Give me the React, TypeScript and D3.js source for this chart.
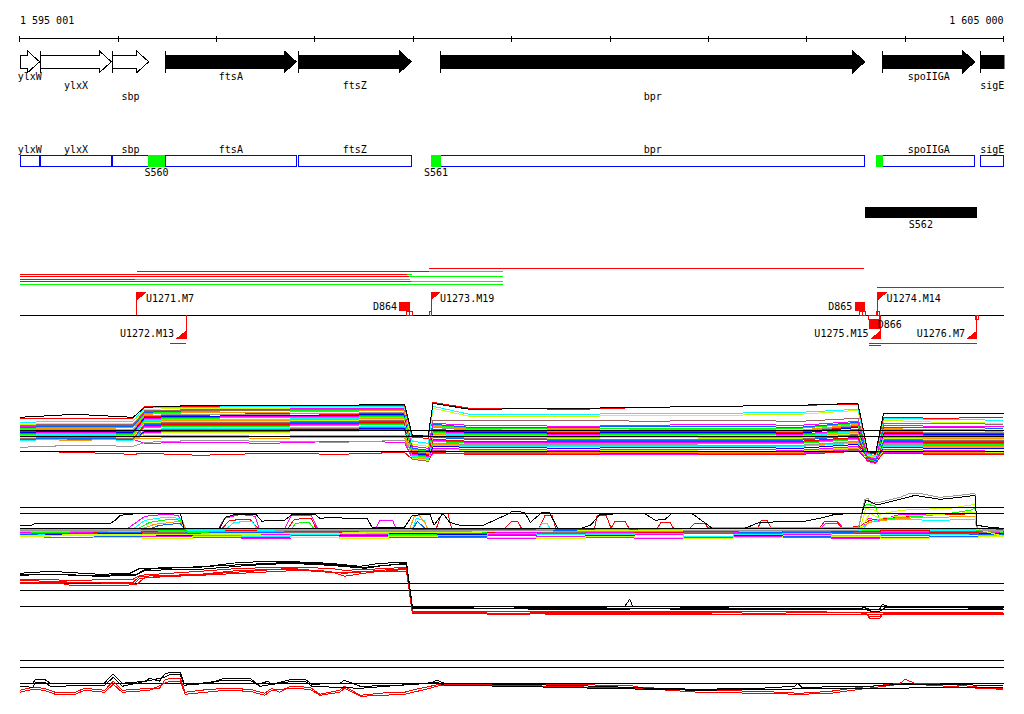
import React from "react";
import * as d3 from "d3";

type Pt = [number, number];

// ---------- genome window (kb) ----------
const DOMAIN: [number, number] = [1595.001, 1605.0];
const AXIS_TICKS = [1595, 1596, 1597, 1598, 1599, 1600, 1601, 1602, 1603, 1604, 1605];
const AXIS_LABELS = ["1 595 001", "1 605 000"];

// ---------- genes ----------
const GENE_NAMES = ["ylxW", "ylxX", "sbp", "ftsA", "ftsZ", "bpr", "spoIIGA", "sigE"];
const GENE_START = [1594.9, 1595.21, 1595.94, 1596.48, 1597.83, 1599.28, 1603.77, 1604.77];
const GENE_END = [1595.2, 1595.93, 1596.31, 1597.81, 1598.98, 1603.59, 1604.71, 1605.4];
const GENE_KNOWN = [false, false, false, true, true, true, true, true];

// ---------- sites on the gene-box track ----------
const SITE_NAMES = ["S560", "S561", ""];
const SITE_START = [1596.3, 1599.18, 1603.7];
const SITE_END = [1596.48, 1599.28, 1603.77];

const REGION_NAMES = ["S562"];
const REGION_START = [1603.59];
const REGION_END = [1604.73];

// ---------- transcript segments ----------
const SEG_LANE = [0, 1, 1, 2, 2, 3, 3, 4, 4, 5, 5, 6, 7, 8, 8, 9];
const SEG_START = [1599.16, 1596.19, 1599.16, 1595.0, 1598.94, 1595.0, 1598.96, 1595.0, 1596.17, 1595.0, 1598.98, 1595.0, 1603.71, 1596.53, 1603.63, 1603.63];
const SEG_END = [1603.58, 1599.16, 1599.91, 1598.94, 1598.99, 1598.96, 1599.91, 1596.17, 1598.97, 1598.98, 1599.91, 1599.91, 1605.0, 1596.69, 1604.73, 1603.75];
const SEG_TYPE = ["r", "r", "g", "r", "g", "r", "g", "r", "g", "r", "g", "g", "r", "r", "r", "r"];

// ---------- promoters / terminators ----------
const FLAG_NAMES = ["U1271.M7", "U1272.M13", "U1273.M19", "U1274.M14", "U1275.M15", "U1276.M7"];
const FLAG_POS = [1596.19, 1596.69, 1599.18, 1603.72, 1603.75, 1604.73];
const FLAG_STRAND = ["+", "-", "+", "+", "-", "-"];

const DOWN_NAMES = ["D864", "D865", "D866"];
const DOWN_POS = [1598.91, 1603.54, 1603.69];
const DOWN_STRAND = ["+", "+", "-"];

const BOX_START = [1598.93, 1598.96, 1599.16, 1603.54, 1603.57, 1603.71, 1603.63, 1604.72];
const BOX_END = [1598.96, 1598.99, 1599.18, 1603.57, 1603.6, 1603.74, 1603.74, 1604.75];
const BOX_STRAND = ["+", "+", "+", "+", "+", "+", "-", "-"];

// ---------- expression track 5 ----------
const T5_REFS = [0, 15, 20.6];
const T5_POS = [1595.0, 1595.56, 1596.15, 1596.27, 1596.83, 1597.54, 1598.25, 1598.91, 1598.99, 1599.15, 1599.2, 1599.57, 1600.69, 1601.4, 1602.11, 1602.93, 1603.52, 1603.62, 1603.7, 1603.78, 1604.35, 1605.0];
const T5_COLORS = ["#000000", "#ff0000", "#00ffff", "#ccff00", "#996666", "#ff00ff", "#0066ff", "#00ff00", "#ff9900", "#999999", "#ff0000", "#0000ff", "#ff00ff", "#00ff00", "#00ffff", "#ff9900", "#ccff00", "#996666", "#0066ff", "#ff0000", "#ff00ff", "#00ff00", "#999999", "#ff9900", "#00ffff", "#0000ff", "#ff00ff", "#ccff00", "#ff0000", "#ff00ff", "#ff9900", "#996666"];
const T5_VALUES = [
  [34, 37, 34, 44, 46, 46, 46, 47, 16, 15, 48, 42, 43, 44, 45, 46, 48, 0, -2, 38, 38, 38],
  [33, 33, 33, 45, 45, 46, 46, 46, 14, 13, 49, 43, 42, 44, 45, 46, 47, -1, -3, 34, 33, 34],
  [29, 30, 30, 44, 44, 45, 45, 45, 10, 8, 45, 37, 37, 38, 38, 39, 42, -3, -5, 33, 32, 31],
  [27, 28, 28, 42, 43, 43, 44, 44, 7, 5, 43, 35, 35, 36, 36, 37, 41, -4, -6, 31, 29, 28],
  [26, 27, 27, 41, 41, 41, 42, 42, 15, 16, 31, 31, 31, 30, 31, 30, 33, -2, -5, 28, 28, 27],
  [25, 26, 26, 40, 42, 43, 43, 43, 5, 3, 28, 26, 25, 26, 27, 26, 30, -6, -8, 26, 25, 25],
  [24, 25, 25, 39, 41, 42, 42, 43, 3, 1, 27, 24, 24, 25, 25, 24, 29, -7, -9, 24, 24, 23],
  [23, 24, 24, 38, 40, 41, 41, 42, 2, 0, 26, 23, 22, 23, 23, 23, 28, -8, -10, 22, 22, 21],
  [22, 23, 22, 37, 39, 39, 40, 41, 1, -1, 25, 22, 23, 22, 22, 21, 27, -5, -7, 23, 21, 20],
  [21, 22, 21, 36, 37, 37, 38, 39, 0, -2, 24, 21, 20, 21, 21, 20, 26, -4, -6, 20, 19, 19],
  [20, 21, 20, 35, 36, 38, 37, 38, -1, -3, 22, 20, 19, 20, 20, 19, 25, -3, -5, 19, 18, 18],
  [19, 20, 19, 34, 35, 36, 36, 37, -2, -4, 21, 19, 18, 19, 19, 18, 24, -6, -8, 18, 17, 17],
  [18, 19, 18, 33, 34, 35, 35, 36, -3, -5, 20, 18, 17, 18, 18, 17, 22, -7, -9, 17, 16, 16],
  [17, 18, 17, 32, 33, 34, 34, 35, -4, -6, 19, 17, 16, 17, 17, 16, 21, -8, -10, 16, 15, 15],
  [16, 17, 16, 31, 32, 32, 33, 34, -5, -7, 18, 16, 15, 16, 15, 15, 20, -5, -8, 15, 14, 14],
  [15, 16, 15, 30, 31, 31, 32, 33, -6, -8, 17, 15, 14, 15, 14, 14, 19, -4, -7, 14, 13, 13],
  [14, 15, 14, 29, 30, 30, 31, 32, -7, -9, 16, 14, 13, 14, 13, 13, 18, -6, -9, 13, 12, 12],
  [13, 14, 13, 28, 29, 29, 30, 31, -8, -10, 15, 13, 12, 12, 12, 12, 17, -7, -10, 12, 11, 11],
  [12, 13, 12, 27, 28, 28, 29, 30, -7, -9, 14, 12, 11, 11, 11, 11, 16, -8, -11, 11, 10, 10],
  [15, 14, 13, 26, 27, 27, 28, 29, -6, -8, 12, 10, 10, 10, 10, 10, 14, -9, -11, 10, 9, 9],
  [14, 12, 13, 25, 26, 26, 27, 28, -5, -7, 11, 9, 9, 9, 9, 9, 13, -7, -10, 9, 8, 8],
  [13, 14, 12, 24, 25, 25, 26, 27, -4, -6, 10, 8, 8, 8, 8, 8, 12, -6, -9, 8, 7, 7],
  [4, 6, 5, 9, 11, 10, 9, 11, -3, -5, 8, 7, 7, 7, 6, 6, 10, -5, -8, 7, 6, 6],
  [12, 11, 12, 16, 16, 15, 16, 16, -2, -4, 7, 6, 6, 6, 6, 6, 9, -4, -7, 6, 5, 5],
  [11, 12, 11, 22, 23, 23, 24, 25, -1, -3, 6, 5, 5, 5, 5, 5, 8, -3, -6, 5, 4, 4],
  [13, 11, 12, 20, 21, 21, 22, 23, -3, -6, 5, 4, 3, 4, 4, 3, 7, -5, -8, 4, 3, 3],
  [12, 13, 11, 19, 20, 20, 21, 22, -5, -8, 3, 2, 1, 2, 2, 1, 5, -6, -9, 2, 1, 0],
  [11, 12, 12, 18, 19, 19, 20, 21, -6, -9, 2, 1, 0, 1, 0, 0, 4, -7, -10, 1, 0, -1],
  [0, -1, -3, -2, -4, -2, -3, -1, -8, -10, -1, -3, -3, -2, -3, -3, 0, -9, -11, -2, -3, -3],
  [12, 13, 12, 8, 9, 8, 10, 9, -7, -9, -2, -2, -3, -3, -3, -2, 2, -10, -12, -1, -2, -2],
  [11, 12, 13, 13, 14, 13, 14, 14, -4, -7, 0, 0, -1, -1, -1, -1, 3, -8, -11, 0, -1, -1],
  [14, 13, 14, 21, 22, 22, 23, 24, 14, 16, 1, -1, -2, -1, -2, -2, 1, -6, -9, -1, -1, -2],
];

// ---------- expression track 6 ----------
const T6_REFS = [0, 15, 21];
const T6_POS = [1595.0, 1595.5, 1596.0, 1596.5, 1597.0, 1597.5, 1598.0, 1598.5, 1599.0, 1599.5, 1600.0, 1600.5, 1601.0, 1601.5, 1602.0, 1602.5, 1603.0, 1603.5, 1604.0, 1604.5, 1605.0];
const T6_BAND_COLORS = ["#ff0000", "#00ff00", "#0066ff", "#ff00ff", "#00ffff", "#ff9900", "#999999", "#996666", "#ccff00", "#0000ff", "#00ff00", "#ff00ff", "#ff0000", "#00ffff"];
const T6_BAND = [
  [-1, -1, 0, -1, -2, -1, -1, 0, -1, -2, -1, -1, -2, -1, -2, -1, -1, -2, -1, 0, -1],
  [-3, -4, -5, -6, -7, -5, -4, -5, -6, -4, -3, -4, -5, -4, -3, -4, -5, -5, -4, -3, -4],
  [-6, -7, -8, -7, -8, -9, -7, -8, -9, -8, -7, -8, -7, -9, -8, -7, -8, -9, -7, -8, -8],
  [-8, -9, -7, -8, -9, -10, -9, -8, -8, -9, -10, -8, -9, -10, -9, -8, -9, -10, -9, -9, -8],
  [-2, -3, -3, -2, -3, -4, -3, -2, -3, -3, -2, -3, -4, -3, -2, -3, -2, -3, -3, -2, -3],
  [-1, -2, -2, -3, -1, -2, -3, -2, -1, -2, -3, -2, -1, -2, -3, -1, -2, -1, -2, -1, -2],
  [-2, -3, -2, -3, -3, -2, -3, -3, -2, -3, -2, -3, -3, -2, -3, -2, -3, -2, -3, -3, -2],
  [-4, -3, -4, -4, -5, -4, -4, -3, -4, -5, -4, -4, -3, -4, -4, -5, -3, -4, -4, -3, -4],
  [-7, -6, -9, -10, -8, -7, -9, -10, -8, -7, -9, -10, -8, -9, -10, -9, -7, -8, -10, -9, -8],
  [-5, -6, -5, -7, -6, -5, -6, -7, -5, -6, -5, -6, -7, -6, -5, -7, -6, -5, -6, -6, -5],
  [-1, 0, -1, -2, -1, 0, -2, -1, 0, -1, -2, -1, 0, -1, -2, 0, -1, -2, -1, 0, -1],
  [-5, -4, -6, -5, -4, -6, -5, -6, -4, -5, -6, -5, -4, -6, -5, -4, -6, -5, -4, -5, -6],
  [-3, -2, -4, -3, -4, -2, -3, -4, -3, -2, -4, -3, -2, -4, -3, -2, -4, -3, -2, -4, -3],
  [-6, -5, -7, -6, -6, -8, -6, -5, -7, -7, -5, -6, -6, -5, -8, -6, -5, -7, -6, -6, -7],
];
const T6_PEAK_COLORS = ["#ff00ff", "#ff0000", "#00ffff", "#00ff00", "#ff9900", "#0066ff", "#ccff00", "#ccff00"];
const T6_PEAKS: Pt[][] = [
  [[1595.0, -4], [1595.8, -3], [1596.07, -2], [1596.17, 5], [1596.27, 12], [1596.47, 14], [1596.61, 13], [1596.68, -1], [1596.78, -3], [1597.01, -2], [1597.08, 10], [1597.24, 14], [1597.39, 12], [1597.44, -2], [1597.69, -1], [1597.76, 13], [1597.96, 13], [1598.03, -1], [1598.61, -2], [1598.66, 8], [1598.79, 8], [1598.83, -2], [1600.0, -4], [1603.13, -1], [1603.19, 5], [1603.33, 5], [1603.38, -1], [1603.56, 0], [1603.62, 10], [1603.74, 8], [1603.95, 14], [1604.35, 14], [1604.71, 16], [1604.73, -3], [1605.0, -4]],
  [[1595.0, -2], [1597.05, -1], [1597.13, 8], [1597.34, 9], [1597.42, 0], [1597.72, -1], [1597.79, 9], [1597.96, 10], [1598.01, 0], [1599.23, -1], [1599.29, 15], [1599.35, 15], [1599.39, 0], [1599.93, 0], [1600.0, 7], [1600.06, 7], [1600.1, 0], [1600.28, 0], [1600.34, 13], [1600.41, 13], [1600.45, -1], [1600.84, -1], [1600.87, 13], [1600.96, 13], [1601.01, 0], [1601.05, 7], [1601.15, 7], [1601.2, -1], [1601.48, 0], [1601.52, 6], [1601.61, 6], [1601.65, -1], [1601.81, 0], [1601.86, 5], [1601.96, 5], [1602.01, -1], [1602.5, 0], [1602.54, 8], [1602.6, 8], [1602.64, -1], [1603.13, 0], [1603.18, 7], [1603.31, 7], [1603.35, 0], [1603.54, 2], [1603.64, 8], [1603.8, 10], [1604.15, 13], [1604.56, 14], [1604.71, 15], [1604.73, 0], [1605.0, -1]],
  [[1595.0, -3], [1596.12, -3], [1596.27, 8], [1596.47, 11], [1596.63, 10], [1596.69, -2], [1597.08, -2], [1597.18, 6], [1597.36, 7], [1597.42, -2], [1598.99, -1], [1599.03, 10], [1599.11, 8], [1599.15, -2], [1600.28, 0], [1600.31, 5], [1600.36, 5], [1600.39, 0], [1603.56, -2], [1603.62, 5], [1603.74, 9], [1604.35, 8], [1604.71, 9], [1604.73, -2], [1605.0, -3]],
  [[1595.0, -5], [1596.17, -2], [1596.32, 6], [1596.52, 9], [1596.65, 8], [1596.7, -4], [1597.75, -3], [1597.8, 5], [1597.94, 6], [1598.01, -3], [1603.52, -2], [1603.58, 22], [1603.62, 24], [1603.7, 22], [1603.74, 8], [1603.85, 10], [1604.15, 12], [1604.46, 15], [1604.66, 18], [1604.71, 20], [1604.73, -2], [1605.0, -4]],
  [[1595.0, -1], [1596.22, -1], [1596.37, 4], [1596.63, 7], [1596.69, -1], [1598.96, -1], [1599.01, 12], [1599.06, 13], [1599.12, 5], [1599.15, -1], [1603.56, 1], [1603.64, 6], [1603.95, 10], [1604.71, 12], [1604.73, -1], [1605.0, -2]],
  [[1595.0, -6], [1596.22, -4], [1596.42, 3], [1596.63, 5], [1596.7, -5], [1598.99, -2], [1599.04, 7], [1599.13, -1], [1605.0, -6]],
  [[1595.0, -7], [1603.54, -1], [1603.6, 20], [1603.7, 18], [1603.74, 14], [1603.95, 18], [1604.15, 19], [1604.46, 20], [1604.71, 24], [1604.73, -1], [1605.0, -8]],
  [[1595.0, -8], [1603.56, 0], [1603.64, 15], [1603.74, 10], [1603.95, 12], [1604.35, 14], [1604.71, 16], [1604.73, 0], [1605.0, -9]],
];
const T6_GRAY: Pt[] = [[1595.0, -2], [1597.0, -3], [1599.0, -2], [1601.0, -3], [1603.52, -2], [1603.59, 29], [1603.62, 30], [1603.66, 25], [1603.74, 26], [1603.95, 31], [1604.05, 35], [1604.15, 35], [1604.35, 31], [1604.56, 33], [1604.71, 35], [1604.73, 2], [1604.76, -2], [1605.0, -2]];
const T6_BLACK: Pt[] = [[1595.0, 3], [1595.12, 3], [1595.16, 5], [1595.92, 5], [1595.97, 8], [1596.02, 13], [1596.22, 15], [1596.63, 15], [1596.67, 0], [1597.03, 0], [1597.09, 11], [1597.19, 14], [1597.4, 14], [1597.46, 7], [1597.52, 8], [1597.69, 8], [1597.77, 14], [1598.0, 14], [1598.05, 10], [1598.2, 11], [1598.3, 10], [1598.53, 10], [1598.58, 1], [1598.91, 1], [1598.99, 13], [1599.17, 14], [1599.21, 3], [1599.3, 15], [1599.37, 6], [1599.47, 3], [1599.71, 3], [1599.98, 15], [1600.0, 17], [1600.13, 16], [1600.19, 6], [1600.31, 16], [1600.38, 16], [1600.47, 0], [1600.71, 0], [1600.8, 3], [1600.9, 14], [1601.35, 15], [1601.46, 8], [1601.56, 9], [1601.63, 15], [1601.83, 15], [1602.04, 0], [1602.37, 0], [1602.52, 6], [1602.98, 7], [1603.13, 10], [1603.29, 14], [1603.56, 15], [1603.6, 28], [1603.64, 27], [1603.7, 24], [1603.74, 24], [1603.99, 30], [1604.1, 33], [1604.35, 29], [1604.56, 31], [1604.71, 33], [1604.73, 3], [1604.86, 1], [1605.0, 0]];

// ---------- track 7 ----------
const T7_REFS = [0, 16, 23];
const T7_COLORS = ["#ff0000", "#ff0000", "#ff0000", "#ff0000", "#000000", "#000000", "#000000"];
const T7_SERIES: Pt[][] = [
  [[1595.0, 27], [1595.56, 26], [1596.15, 27], [1596.22, 31], [1596.83, 35], [1597.24, 38], [1597.75, 39], [1598.15, 38], [1598.3, 36], [1598.56, 37], [1598.93, 39], [1598.99, -5], [1599.88, -7], [1600.9, -6], [1601.91, -6], [1602.52, -7], [1603.44, -6], [1603.6, -7], [1603.64, -12], [1603.74, -12], [1603.78, -7], [1605.0, -7]],
  [[1595.0, 26], [1595.56, 24], [1596.15, 24], [1596.22, 30], [1596.83, 32], [1597.24, 36], [1597.75, 37], [1598.15, 35], [1598.3, 30], [1598.56, 34], [1598.93, 37], [1598.99, -6], [1599.88, -8], [1600.9, -7], [1602.52, -8], [1603.6, -8], [1603.64, -10], [1603.74, -10], [1603.78, -8], [1605.0, -7]],
  [[1595.0, 23], [1595.41, 23], [1595.51, 21], [1596.07, 21], [1596.19, 22], [1596.27, 29], [1596.83, 31], [1597.85, 36], [1598.15, 34], [1598.93, 35], [1598.99, -7], [1600.9, -8], [1603.6, -8], [1603.78, -8], [1605.0, -8]],
  [[1595.0, 24], [1596.17, 23], [1596.22, 28], [1597.34, 35], [1597.75, 38], [1598.3, 33], [1598.93, 38], [1598.99, -5], [1605.0, -6]],
  [[1595.0, 33], [1595.31, 35], [1595.81, 32], [1596.12, 33], [1596.22, 38], [1596.83, 39], [1597.24, 44], [1597.69, 45], [1598.15, 43], [1598.46, 40], [1598.66, 43], [1598.93, 44], [1598.99, 0], [1599.37, 0], [1600.29, -1], [1600.9, -1], [1601.15, 0], [1601.2, 7], [1601.23, 0], [1601.91, -1], [1602.93, 0], [1603.54, 0], [1603.64, -3], [1603.74, -3], [1603.77, 2], [1603.85, -1], [1605.0, -1]],
  [[1595.0, 31], [1595.31, 32], [1595.81, 30], [1596.17, 31], [1596.27, 36], [1596.83, 37], [1597.34, 41], [1597.75, 43], [1598.15, 41], [1598.51, 38], [1598.71, 41], [1598.93, 42], [1598.99, -1], [1599.88, -2], [1600.29, -3], [1600.9, -3], [1601.91, -2], [1603.54, -2], [1603.66, -5], [1603.74, -5], [1603.8, -1], [1605.0, -2]],
  [[1595.0, 32], [1595.81, 31], [1596.19, 32], [1596.27, 37], [1597.34, 42], [1597.75, 44], [1598.15, 42], [1598.51, 39], [1598.93, 43], [1598.99, -2], [1600.9, -2], [1601.91, -3], [1603.54, -3], [1605.0, -3]],
];

// ---------- track 8 ----------
const T8_REFS = [0, 16, 23];
const T8_COLORS = ["#ff0000", "#ff0000", "#000000", "#000000"];
const T8_SERIES: Pt[][] = [
  [[1595.0, -7], [1595.13, -4], [1595.25, -5], [1595.36, -9], [1595.56, -9], [1595.66, -5], [1595.86, -7], [1595.95, 2], [1596.04, -7], [1596.32, -5], [1596.42, -5], [1596.47, 3], [1596.53, 5], [1596.63, 5], [1596.68, -9], [1596.83, -7], [1597.08, -5], [1597.34, -6], [1597.49, -10], [1597.56, -5], [1597.64, -9], [1597.75, -3], [1597.95, -4], [1598.05, -11], [1598.25, -7], [1598.3, -3], [1598.46, -12], [1598.76, -9], [1598.91, -9], [1599.02, -6], [1599.17, -3], [1599.27, -1], [1600.0, -1], [1601.2, -2], [1601.3, -4], [1601.91, -7], [1602.52, -8], [1602.93, -10], [1603.24, -8], [1603.54, -4], [1603.95, 0], [1604.0, 4], [1604.1, 0], [1604.46, -1], [1604.76, -4], [1605.0, -5]],
  [[1595.0, -9], [1595.13, -6], [1595.25, -7], [1595.36, -11], [1595.56, -11], [1595.66, -7], [1595.86, -9], [1595.95, -1], [1596.04, -9], [1596.32, -7], [1596.47, 0], [1596.53, 2], [1596.63, 2], [1596.68, -11], [1597.08, -7], [1597.34, -8], [1597.49, -12], [1597.56, -7], [1597.75, -5], [1597.95, -6], [1598.05, -12], [1598.25, -9], [1598.3, -5], [1598.46, -13], [1598.91, -11], [1599.17, -5], [1599.27, -2], [1600.0, -2], [1601.3, -5], [1601.91, -9], [1602.52, -10], [1602.93, -11], [1603.24, -10], [1603.54, -6], [1603.95, -1], [1604.1, -1], [1604.76, -5], [1605.0, -6]],
  [[1595.0, 0], [1595.13, 0], [1595.16, 4], [1595.25, 4], [1595.31, 0], [1595.86, 0], [1595.92, 7], [1595.95, 9], [1596.04, 0], [1596.27, 2], [1596.32, 5], [1596.42, 2], [1596.47, 9], [1596.53, 11], [1596.63, 11], [1596.67, 0], [1596.78, -1], [1596.93, 0], [1597.08, 5], [1597.34, 5], [1597.42, -1], [1597.52, 2], [1597.56, -1], [1597.77, 4], [1597.9, 4], [1597.97, -1], [1598.25, 0], [1598.3, 3], [1598.38, 0], [1598.46, -3], [1598.86, -2], [1599.17, 0], [1599.24, 3], [1599.32, 0], [1600.0, -1], [1600.49, -2], [1600.9, -3], [1601.41, -5], [1601.91, -6], [1602.52, -5], [1602.88, -3], [1602.91, 0], [1602.95, -4], [1603.64, -3], [1603.95, -1], [1605.0, -2]],
  [[1595.0, -3], [1595.13, -4], [1595.16, 1], [1595.25, 1], [1595.31, -3], [1595.86, -2], [1595.95, 6], [1596.04, -3], [1596.47, 6], [1596.53, 9], [1596.63, 9], [1596.67, -2], [1597.08, 3], [1597.34, 3], [1597.44, -3], [1597.77, 2], [1597.9, 2], [1597.97, -3], [1598.46, -5], [1599.24, 1], [1599.32, -2], [1600.0, -3], [1600.9, -5], [1601.91, -7], [1602.52, -6], [1603.64, -5], [1605.0, -4]],
];

// ---------- layout ----------
const W = 1024;
const H = 714;
const X0 = 20;
const X1 = 1003.5;
const FONT = "'DejaVu Sans Mono', monospace";
const LANE_Y = [268.3, 271.3, 274.3, 276.3, 279, 281, 284, 287.3, 343.3, 345.7];
const LABEL_ROW_Y = [80, 89.3, 99.8];
const SEG_COLOR: Record<string, string> = { r: "#ff0000", g: "#00ff00" };

export default function App() {
  const x = d3.scaleLinear().domain(DOMAIN).range([X0, X1]);
  const xc = (v: number) => Math.max(X0, Math.min(X1, x(v)));

  const mkY = (base: number) => d3.scaleLinear().domain([0, 1]).range([base, base - 1]);
  const y5 = mkY(451.3);
  const y6 = mkY(528.3);
  const y7 = mkY(606.3);
  const y8 = mkY(683.3);

  const lineOf = (ys: d3.ScaleLinear<number, number>, curve: d3.CurveFactory = d3.curveLinear) =>
    d3
      .line<Pt>()
      .x((d) => x(d[0]))
      .y((d) => ys(d[1]))
      .curve(curve);

  const refLines = (ys: d3.ScaleLinear<number, number>, refs: number[], key: string) =>
    refs.map((r, i) => (
      <line key={key + i} x1={X0} x2={X1 + 0.5} y1={ys(r)} y2={ys(r)} stroke="#000" strokeWidth={1} />
    ));

  const l5 = lineOf(y5);
  const l6 = lineOf(y6);
  const l6s = lineOf(y6, d3.curveStep);
  const l7 = lineOf(y7);
  const l8 = lineOf(y8);

  return (
    <svg
      width={W}
      height={H}
      style={{ position: "absolute", left: 0, top: 0, background: "#fff" }}
      shapeRendering="crispEdges"
      fontFamily={FONT}
      fontSize={10}
    >
      <defs>
        <clipPath id="plotclip">
          <rect x={X0} y={0} width={X1 - X0 + 1} height={H} />
        </clipPath>
      </defs>
      <rect x={0} y={0} width={W} height={H} fill="#fff" />

      {/* axis */}
      <line x1={X0} x2={X1 + 0.5} y1={38.5} y2={38.5} stroke="#000" />
      {AXIS_TICKS.map((t) => (
        <line key={t} x1={x(t)} x2={x(t)} y1={36} y2={41.5} stroke="#000" />
      ))}
      <text x={X0} y={24}>{AXIS_LABELS[0]}</text>
      <text x={X1} y={24} textAnchor="end">{AXIS_LABELS[1]}</text>

      {/* gene arrows */}
      <g clipPath="url(#plotclip)">
        {GENE_NAMES.map((g, i) => {
          const a = xc(GENE_START[i]);
          const bRaw = x(GENE_END[i]);
          const hasHead = bRaw <= X1 + 0.5;
          const b = Math.min(bRaw, X1 + 0.5);
          const h = hasHead ? Math.min(12, b - a) : 0;
          const d = hasHead
            ? `M${a},55 H${b - h} V51 L${b},61.8 L${b - h},72.6 V68.3 H${a} Z`
            : `M${a},55 H${b} V68.3 H${a} Z`;
          const fill = GENE_KNOWN[i] ? "#000" : "#fff";
          return (
            <g key={g}>
              <path d={d} fill={fill} stroke="#000" strokeWidth={1} />
              {x(GENE_START[i]) >= X0 && (
                <line x1={a} x2={a} y1={51} y2={72.6} stroke="#000" />
              )}
            </g>
          );
        })}
      </g>
      {GENE_NAMES.map((g, i) => {
        const a = xc(GENE_START[i]);
        const b = xc(GENE_END[i]);
        return (
          <text key={"gl" + g} x={(a + b) / 2} y={LABEL_ROW_Y[i % 3]} textAnchor="middle">
            {g}
          </text>
        );
      })}

      {/* gene boxes */}
      {GENE_NAMES.map((g, i) => {
        const a = xc(GENE_START[i]);
        const b = xc(GENE_END[i]);
        return (
          <g key={"gb" + g}>
            <rect x={a} y={155} width={b - a} height={11} fill="#fff" stroke="#0000ff" strokeWidth={1} />
            <text x={(a + b) / 2} y={152.5} textAnchor="middle">
              {g}
            </text>
          </g>
        );
      })}
      {SITE_NAMES.map((s, i) => {
        const a = x(SITE_START[i]);
        const b = x(SITE_END[i]);
        return (
          <g key={"site" + i}>
            <rect x={a} y={155} width={b - a} height={11.5} fill="#00ff00" />
            {s && (
              <text x={(a + b) / 2} y={176} textAnchor="middle">
                {s}
              </text>
            )}
          </g>
        );
      })}

      {/* regions */}
      {REGION_NAMES.map((r, i) => {
        const a = x(REGION_START[i]);
        const b = x(REGION_END[i]);
        return (
          <g key={"reg" + r}>
            <rect x={a} y={207.3} width={b - a} height={10.4} fill="#000" />
            <text x={(a + b) / 2} y={228} textAnchor="middle">
              {r}
            </text>
          </g>
        );
      })}

      {/* transcript segments */}
      {SEG_LANE.map((lane, i) => (
        <line
          key={"seg" + i}
          x1={x(SEG_START[i])}
          x2={x(SEG_END[i])}
          y1={LANE_Y[lane]}
          y2={LANE_Y[lane]}
          stroke={SEG_COLOR[SEG_TYPE[i]]}
          strokeWidth={1}
        />
      ))}

      {/* strand line */}
      <line x1={X0} x2={X1 + 0.5} y1={315.3} y2={315.3} stroke="#000" />

      {/* small open boxes */}
      {BOX_START.map((s, i) => {
        const a = x(s);
        const b = x(BOX_END[i]);
        const up = BOX_STRAND[i] === "+";
        return (
          <rect
            key={"bx" + i}
            x={a}
            y={up ? 311 : 315.3}
            width={b - a}
            height={up ? 4.3 : 4.5}
            fill="none"
            stroke="#ff0000"
            strokeWidth={1}
          />
        );
      })}

      {/* flags */}
      {FLAG_NAMES.map((f, i) => {
        const px = x(FLAG_POS[i]);
        const up = FLAG_STRAND[i] === "+";
        if (up) {
          return (
            <g key={f}>
              <line x1={px} x2={px} y1={315.3} y2={292.3} stroke="#ff0000" />
              <path d={`M${px},292.3 L${px + 9.5},292.3 L${px},300.5 Z`} fill="#ff0000" />
              <text x={px + 9} y={302}>
                {f}
              </text>
            </g>
          );
        }
        return (
          <g key={f}>
            <line x1={px} x2={px} y1={315.3} y2={338.5} stroke="#ff0000" />
            <path d={`M${px},338.5 L${px - 10},338.5 L${px},330.5 Z`} fill="#ff0000" />
            <text x={px - 12} y={336.5} textAnchor="end">
              {f}
            </text>
          </g>
        );
      })}

      {/* terminator squares */}
      {DOWN_NAMES.map((dn, i) => {
        const cx = x(DOWN_POS[i]);
        const up = DOWN_STRAND[i] === "+";
        const top = up ? 302 : 319.5;
        return (
          <g key={dn}>
            <rect x={cx - 5.2} y={top} width={10.4} height={9} fill="#ff0000" />
            {up ? (
              <text x={cx - 7.5} y={310.3} textAnchor="end">
                {dn}
              </text>
            ) : (
              <text x={cx + 3} y={328.3}>
                {dn}
              </text>
            )}
          </g>
        );
      })}

      {/* track 5 */}
      <g clipPath="url(#plotclip)" fill="none" strokeWidth={1}>
        {T5_VALUES.map((_, k) => {
          const i = T5_VALUES.length - 1 - k;
          const pts: Pt[] = T5_POS.map((p, j) => [p, T5_VALUES[i][j]]);
          return <path key={"t5" + i} d={l5(pts) || ""} stroke={T5_COLORS[i]} />;
        })}
        {refLines(y5, T5_REFS, "r5")}
      </g>

      {/* track 6 */}
      <g clipPath="url(#plotclip)" fill="none" strokeWidth={1}>
        {T6_BAND.map((vals, i) => {
          const pts: Pt[] = T6_POS.map((p, j) => [p, vals[j]]);
          return <path key={"t6b" + i} d={l6s(pts) || ""} stroke={T6_BAND_COLORS[i]} />;
        })}
        {T6_PEAKS.map((pts, i) => (
          <path key={"t6p" + i} d={l6(pts) || ""} stroke={T6_PEAK_COLORS[i]} />
        ))}
        <path d={l6(T6_GRAY) || ""} stroke="#999999" />
        <path d={l6(T6_BLACK) || ""} stroke="#000000" />
        {refLines(y6, T6_REFS, "r6")}
      </g>

      {/* track 7 */}
      <g clipPath="url(#plotclip)" fill="none" strokeWidth={1}>
        {refLines(y7, T7_REFS, "r7")}
        {T7_SERIES.map((pts, i) => (
          <path key={"t7" + i} d={l7(pts) || ""} stroke={T7_COLORS[i]} />
        ))}
      </g>

      {/* track 8 */}
      <g clipPath="url(#plotclip)" fill="none" strokeWidth={1}>
        {refLines(y8, T8_REFS, "r8")}
        {T8_SERIES.map((pts, i) => (
          <path key={"t8" + i} d={l8(pts) || ""} stroke={T8_COLORS[i]} />
        ))}
      </g>
    </svg>
  );
}
